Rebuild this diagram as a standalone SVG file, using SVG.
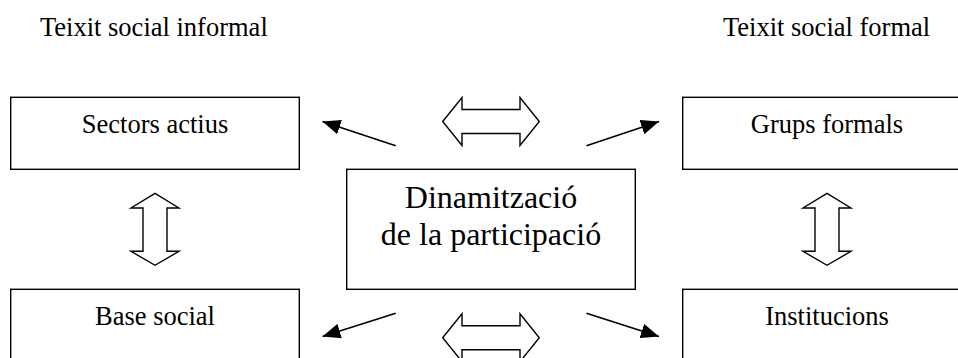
<svg xmlns="http://www.w3.org/2000/svg" width="958" height="358" viewBox="0 0 958 358">
<style>
.box{fill:#fff;stroke:#000;stroke-width:1.4}
.t{font-family:'Liberation Serif','Tinos','Times New Roman','DejaVu Serif',serif;fill:#000}
.s{font-size:26.5px;text-anchor:middle}
.h{font-size:26.5px}
.c{font-size:32px;text-anchor:middle}
.dbl{fill:#fff;stroke:#000;stroke-width:1.4;stroke-linejoin:miter}
.ln{stroke:#000;stroke-width:1.7;fill:none;marker-end:url(#ah)}
</style>
<defs>
<marker id="ah" markerUnits="userSpaceOnUse" markerWidth="19" markerHeight="15" refX="18" refY="7.5" orient="auto">
<path d="M0,0 L18,7.5 L0,15 Z" fill="#000"/>
</marker>
</defs>
<rect width="958" height="358" fill="#fff"/>
<text class="t h" x="40" y="36">Teixit social informal</text>
<text class="t h" x="723" y="36">Teixit social formal</text>
<g id="sectors">
<rect class="box" x="10.7" y="97.3" width="288.6" height="72"/>
<text class="t s" x="155" y="133.3">Sectors actius</text>
</g>
<g id="grups">
<rect class="box" x="682.7" y="97.3" width="288.6" height="72"/>
<text class="t s" x="827" y="133.3">Grups formals</text>
</g>
<g id="base">
<rect class="box" x="10.7" y="289.3" width="288.6" height="72"/>
<text class="t s" x="155" y="325">Base social</text>
</g>
<g id="institucions">
<rect class="box" x="682.7" y="289.3" width="288.6" height="72"/>
<text class="t s" x="827" y="325">Institucions</text>
</g>
<g id="dinamitzacio">
<rect class="box" x="346.7" y="169.3" width="288.6" height="120"/>
<text class="t c" x="491" y="208.3">Dinamització</text>
<text class="t c" x="491" y="245">de la participació</text>
</g>
<g id="connectors">
<path class="dbl" d="M155,193.3 L179,208 L167,208 L167,251.3 L179,251.3 L155,265.3 L131,251.3 L143,251.3 L143,208 L131,208 Z"/>
<path class="dbl" d="M827,193.3 L851,208 L839,208 L839,251.3 L851,251.3 L827,265.3 L803,251.3 L815,251.3 L815,208 L803,208 Z"/>
<path class="dbl" d="M442.7,121.5 L462,97.5 L462,109.5 L520,109.5 L520,97.5 L539.3,121.5 L520,145.5 L520,133.5 L462,133.5 L462,145.5 Z"/>
<path class="dbl" d="M442.7,337.7 L462,313.7 L462,325.7 L520,325.7 L520,313.7 L539.3,337.7 L520,361.7 L520,349.7 L462,349.7 L462,361.7 Z"/>
<line class="ln" x1="395.7" y1="145.7" x2="322.5" y2="121.5"/>
<line class="ln" x1="586.5" y1="145.7" x2="659" y2="121.5"/>
<line class="ln" x1="395.7" y1="313.3" x2="322.5" y2="336.5"/>
<line class="ln" x1="586.5" y1="313.3" x2="659" y2="336.5"/>
</g>
</svg>
